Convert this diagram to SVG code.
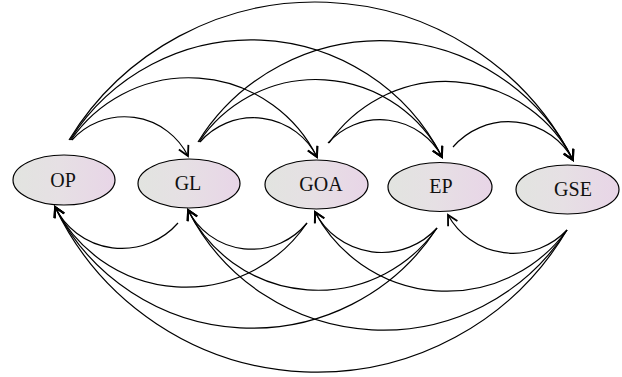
<svg xmlns="http://www.w3.org/2000/svg" width="622" height="377" viewBox="0 0 622 377">
<defs>
<linearGradient id="g" x1="0" y1="0" x2="1" y2="0">
<stop offset="0" stop-color="#e2e4e0"/>
<stop offset="0.45" stop-color="#e6e0e4"/>
<stop offset="1" stop-color="#e8d5e7"/>
</linearGradient>
<marker id="ah" markerUnits="userSpaceOnUse" markerWidth="14" markerHeight="14" viewBox="-8 -5 10 10" refX="0" refY="0" orient="auto">
<path d="M-7,-3.8 L0,0 L-7,3.8" fill="none" stroke="#000" stroke-width="1.3"/>
</marker>
<style>
.n ellipse{fill:url(#g);stroke:#000;stroke-width:1.2}
.n text{font-family:"Liberation Serif","Times New Roman",serif;font-size:20px;text-anchor:middle;fill:#111}
.c path{fill:none;stroke:#000;stroke-width:1.2;marker-end:url(#ah)}
</style>
</defs>
<rect width="622" height="377" fill="#fff"/>
<g id="connectors" class="c">
<path d="M72,140 A71,71 0 0 1 188,156"/>
<path d="M71,140 A143,143 0 0 1 317,157"/>
<path d="M70,140 A214,214 0 0 1 442,157"/>
<path d="M69,140 A289,289 0 0 1 573,160"/>
<path d="M200,142 A71,71 0 0 1 317,157"/>
<path d="M199,142 A141,141 0 0 1 442,157"/>
<path d="M198,142 A215,215 0 0 1 573,160"/>
<path d="M328,143 A70,70 0 0 1 442,157"/>
<path d="M329,143 A142,142 0 0 1 573,160"/>
<path d="M453,147 A73.5,73.5 0 0 1 573,160"/>
<path d="M178,223 A74.7,74.7 0 0 1 55,207"/>
<path d="M307,223 A71.4,71.4 0 0 1 188,210"/>
<path d="M437,228 A75,75 0 0 1 315,212"/>
<path d="M567,230 A74.3,74.3 0 0 1 448,215"/>
<path d="M307,223 A146.7,146.7 0 0 1 55,207"/>
<path d="M437,228 A145.2,145.2 0 0 1 188,210"/>
<path d="M567,230 A149,149 0 0 1 315,212"/>
<path d="M437,228 A220.8,220.8 0 0 1 55,207"/>
<path d="M567,230 A218.7,218.7 0 0 1 188,210"/>
<path d="M567,230 A290.6,290.6 0 0 1 55,207"/>
</g>
<g id="OP" class="n"><ellipse cx="64" cy="180" rx="51" ry="25"/><text x="63" y="187">OP</text></g>
<g id="GL" class="n"><ellipse cx="189" cy="183.5" rx="51" ry="24.5"/><text x="188" y="190">GL</text></g>
<g id="GOA" class="n"><ellipse cx="316.5" cy="184.5" rx="51.5" ry="24.5"/><text x="321" y="191">GOA</text></g>
<g id="EP" class="n"><ellipse cx="440" cy="187" rx="52" ry="24.5"/><text x="441" y="193">EP</text></g>
<g id="GSE" class="n"><ellipse cx="567.5" cy="189.5" rx="51.5" ry="24.5"/><text x="573" y="196">GSE</text></g>
</svg>
